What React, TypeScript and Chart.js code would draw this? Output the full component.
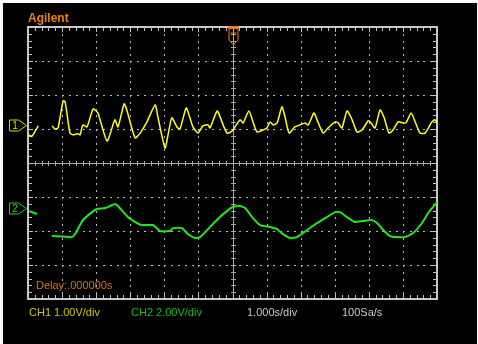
import { useEffect, useRef } from "react";
import { Chart, registerables } from "chart.js";

Chart.register(...registerables);

// ---- Data (time in s, trigger at 0; volts) ----
const ch1Time = [
  -5.97, -5.89, -5.70, -5.50, -5.29, -5.21, -5.12, -4.97, -4.91, -4.77,
  -4.68, -4.53, -4.47, -4.39, -4.27, -4.09, -3.95, -3.68, -3.45, -3.36,
  -3.18, -3.10, -2.86, -2.71, -2.51, -2.27, -2.19, -1.98, -1.89, -1.78,
  -1.63, -1.54, -1.36, -1.25, -1.16, -1.01, -0.87, -0.72, -0.66, -0.45,
  -0.31, -0.16, -0.01,
  0.22, 0.31, 0.48, 0.60, 0.72, 0.89, 1.01, 1.10, 1.19, 1.31,
  1.45, 1.54, 1.66, 1.83, 1.98, 2.13, 2.22, 2.39, 2.48, 2.66,
  2.80, 3.01, 3.10, 3.21, 3.36, 3.51, 3.65, 3.80, 3.98, 4.06,
  4.18, 4.33, 4.45, 4.59, 4.71, 4.86, 5.00, 5.09, 5.24, 5.36,
  5.50, 5.65, 5.85, 5.94, 6.00,
];
const ch1Volts = [
  -0.29, -0.34, -0.03, null, -0.03, -0.12, -0.09, 0.71, 0.68, -0.24,
  -0.29, -0.26, -0.29, 0.0, -0.06, 0.47, 0.35, -0.47, 0.15, -0.06,
  0.62, 0.44, -0.38, -0.24, 0.09, 0.59, 0.24, -0.68, -0.29, 0.21,
  -0.06, -0.12, 0.50, 0.21, -0.06, -0.24, -0.03, 0.0, -0.09, 0.41,
  0.09, -0.24, -0.18,
  0.15, 0.06, 0.41, 0.09, -0.21, -0.15, -0.09, 0.09, 0.0, 0.06,
  0.53, 0.24, -0.24, -0.06, 0.0, 0.06, 0.0, 0.35, 0.15, -0.24,
  -0.09, 0.09, 0.06, -0.09, 0.41, 0.15, -0.21, -0.15, 0.12, 0.06,
  -0.09, 0.44, 0.21, -0.24, -0.15, 0.09, 0.06, 0.06, 0.35, 0.09,
  -0.24, -0.24, 0.09, 0.15, 0.06,
];
const ch2Time = [
  -5.97, -5.74, -5.52, -5.30, -4.71, -4.62, -4.39, -4.12, -3.98, -3.74,
  -3.59, -3.45, -3.36, -3.07, -2.80, -2.66, -2.33, -2.13, -1.83, -1.75,
  -1.48, -1.31, -1.10, -0.95, -0.66, -0.37, -0.13, 0.01,
  0.22, 0.37, 0.60, 0.81, 1.10, 1.31, 1.48, 1.69, 1.89, 2.19,
  2.48, 2.77, 3.01, 3.15, 3.36, 3.59, 3.83, 4.09, 4.24, 4.42,
  4.62, 4.83, 5.06, 5.30, 5.56, 5.74, 6.00,
];
const ch2Volts = [
  -0.18, -0.35, null, -1.65, -1.71, -1.53, -0.71, -0.24, -0.06, 0.0,
  0.12, 0.24, 0.12, -0.53, -0.88, -1.0, -1.0, -1.35, -1.35, -1.18,
  -1.18, -1.53, -1.76, -1.71, -1.12, -0.53, -0.12, 0.06,
  0.12, 0.0, -0.59, -1.0, -1.12, -1.24, -1.53, -1.76, -1.71, -1.29,
  -0.88, -0.53, -0.24, -0.24, -0.53, -0.82, -0.76, -0.71, -0.88, -1.29,
  -1.65, -1.71, -1.71, -1.47, -0.88, -0.29, 0.35,
];

// scale ranges (8 vertical divisions, 12 horizontal)
const timeRange = [-6, 6];
const ch1Range = [-5.12, 2.88]; // 1.00 V/div
const ch2Range = [-5.35, 10.65]; // 2.00 V/div

const brandLabel = "Agilent";
const delayLabel = "Delay:.000000s";
const ch1Label = "CH1 1.00V/div";
const ch2Label = "CH2 2.00V/div";
const timebaseLabel = "1.000s/div";
const sampleLabel = "100Sa/s";

const FONT = "'Liberation Sans', Arial, sans-serif";

const scopePlugin = {
  id: "scope",
  beforeDraw(chart: any) {
    const ctx = chart.ctx as CanvasRenderingContext2D;
    const { left: L, top: T, right: R, bottom: B } = chart.chartArea;
    ctx.save();
    ctx.fillStyle = "#ffffff";
    ctx.fillRect(0, 0, chart.width, chart.height);
    ctx.fillStyle = "#000000";
    ctx.fillRect(3, 3, chart.width - 4, chart.height - 3);

    const dx = (R - L) / 12;
    const dy = (B - T) / 8;

    // dotted grid
    ctx.fillStyle = "#b8b8b8";
    for (let i = 1; i < 12; i++) {
      if (i === 6) continue;
      const x = Math.round(L + i * dx);
      for (let k = 1; k < 40; k++) {
        const y = Math.round(T + (k * dy) / 5);
        ctx.fillRect(x, y, 1, 2);
      }
    }
    for (let j = 1; j < 8; j++) {
      if (j === 4) continue;
      const y = Math.round(T + j * dy);
      for (let k = 1; k < 60; k++) {
        const x = Math.round(L + (k * dx) / 5);
        ctx.fillRect(x, y, 2, 1);
      }
    }

    // center axes
    ctx.strokeStyle = "#a8a8a8";
    ctx.lineWidth = 1;
    const yc = Math.round(T + 4 * dy) + 0.5;
    const xc = Math.round(L + 6 * dx) + 0.5;
    ctx.beginPath();
    ctx.moveTo(L, yc);
    ctx.lineTo(R, yc);
    ctx.moveTo(xc, T);
    ctx.lineTo(xc, B);
    for (let k = 1; k < 60; k++) {
      const x = Math.round(L + (k * dx) / 5) + 0.5;
      ctx.moveTo(x, yc - 2.5);
      ctx.lineTo(x, yc + 2.5);
    }
    for (let k = 1; k < 40; k++) {
      const y = Math.round(T + (k * dy) / 5) + 0.5;
      ctx.moveTo(xc - 2.5, y);
      ctx.lineTo(xc + 2.5, y);
    }
    ctx.stroke();

    // border ticks
    ctx.strokeStyle = "#c0c0c0";
    ctx.beginPath();
    for (let k = 1; k < 60; k++) {
      const x = Math.round(L + (k * dx) / 5) + 0.5;
      const len = k % 5 === 0 ? 5 : 4;
      ctx.moveTo(x, T);
      ctx.lineTo(x, T + len);
      ctx.moveTo(x, B);
      ctx.lineTo(x, B - len);
    }
    for (let k = 1; k < 40; k++) {
      const y = Math.round(T + (k * dy) / 5) + 0.5;
      const len = k % 5 === 0 ? 5 : 4;
      ctx.moveTo(L, y);
      ctx.lineTo(L + len, y);
      ctx.moveTo(R, y);
      ctx.lineTo(R - len, y);
    }
    ctx.stroke();

    // border
    ctx.strokeStyle = "#c8c8c8";
    ctx.lineWidth = 2;
    ctx.strokeRect(L, T, R - L, B - T);
    ctx.restore();
  },
  afterDraw(chart: any) {
    const ctx = chart.ctx as CanvasRenderingContext2D;
    const { left: L, top: T, bottom: B } = chart.chartArea;
    ctx.save();

    // trigger marker
    const xT = Math.round(chart.scales.x.getPixelForValue(0)) + 0.5;
    ctx.fillStyle = "#f08010";
    ctx.strokeStyle = "#f08010";
    ctx.lineWidth = 1;
    ctx.fillRect(xT - 5, T - 1, 10, 3);
    ctx.beginPath();
    ctx.moveTo(xT - 4.5, T + 2);
    ctx.lineTo(xT - 4.5, T + 13);
    ctx.lineTo(xT, T + 18);
    ctx.lineTo(xT + 4.5, T + 13);
    ctx.lineTo(xT + 4.5, T + 2);
    ctx.moveTo(xT - 3, T + 6);
    ctx.lineTo(xT + 3, T + 6);
    ctx.stroke();

    // channel ground markers
    const drawMarker = (yc: number, color: string, label: string) => {
      const y = Math.round(yc) + 0.5;
      ctx.strokeStyle = color;
      ctx.fillStyle = color;
      ctx.lineWidth = 1;
      ctx.beginPath();
      ctx.moveTo(9.5, y - 5.5);
      ctx.lineTo(18.5, y - 5.5);
      ctx.lineTo(26.5, y);
      ctx.lineTo(18.5, y + 5.5);
      ctx.lineTo(9.5, y + 5.5);
      ctx.closePath();
      ctx.stroke();
      ctx.font = `10px ${FONT}`;
      ctx.textAlign = "center";
      ctx.textBaseline = "middle";
      ctx.fillText(label, 15, y + 0.5);
    };
    drawMarker(chart.scales.y1.getPixelForValue(0), "#d8d800", "1");
    drawMarker(chart.scales.y2.getPixelForValue(0), "#20d020", "2");

    // texts
    ctx.textAlign = "left";
    ctx.textBaseline = "middle";
    ctx.font = `bold 12px ${FONT}`;
    ctx.fillStyle = "#f08010";
    ctx.fillText(brandLabel, L, T - 8);

    ctx.font = `11px ${FONT}`;
    ctx.fillStyle = "#d8700f";
    ctx.fillText(delayLabel, L + 8, B - 13);

    const yb = B + 14;
    ctx.fillStyle = "#c8c800";
    ctx.fillText(ch1Label, 29, yb);
    ctx.fillStyle = "#10c010";
    ctx.fillText(ch2Label, 131, yb);
    ctx.fillStyle = "#c8c8c8";
    ctx.fillText(timebaseLabel, 247, yb);
    ctx.fillText(sampleLabel, 342, yb);
    ctx.restore();
  },
};

export default function App() {
  const ref = useRef<HTMLCanvasElement | null>(null);

  useEffect(() => {
    document.body.style.margin = "0";
    const canvas = ref.current;
    if (!canvas) return;
    const ch1Points = ch1Time.map((t, i) => ({ x: t, y: ch1Volts[i] }));
    const ch2Points = ch2Time.map((t, i) => ({ x: t, y: ch2Volts[i] }));
    const chart = new Chart(canvas, {
      type: "line",
      data: {
        datasets: [
          {
            label: "CH1",
            data: ch1Points as any,
            yAxisID: "y1",
            borderColor: "#ffff10",
            borderWidth: 1.5,
            pointRadius: 0,
            tension: 0.2,
            spanGaps: false,
          },
          {
            label: "CH2",
            data: ch2Points as any,
            yAxisID: "y2",
            borderColor: "#22e622",
            borderWidth: 2,
            pointRadius: 0,
            tension: 0.15,
            spanGaps: false,
          },
        ],
      },
      options: {
        animation: false,
        responsive: false,
        maintainAspectRatio: false,
        devicePixelRatio: 1,
        events: [],
        layout: { padding: { left: 28, top: 27, right: 41, bottom: 45 } },
        plugins: { legend: { display: false }, tooltip: { enabled: false } },
        scales: {
          x: { type: "linear", min: timeRange[0], max: timeRange[1], display: false },
          y1: { type: "linear", min: ch1Range[0], max: ch1Range[1], display: false },
          y2: { type: "linear", min: ch2Range[0], max: ch2Range[1], display: false },
        },
      },
      plugins: [scopePlugin],
    });
    return () => chart.destroy();
  }, []);

  return (
    <canvas
      ref={ref}
      width={478}
      height={344}
      style={{ display: "block", width: 478, height: 344 }}
    />
  );
}
